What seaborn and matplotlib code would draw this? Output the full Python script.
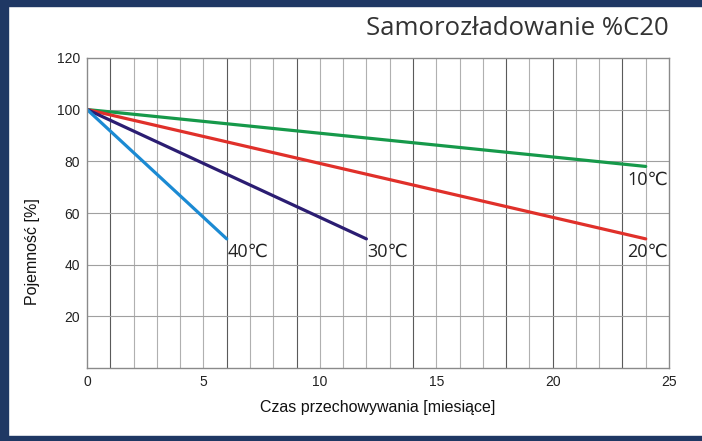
import numpy as np
import pandas as pd
import matplotlib
matplotlib.use("Agg")
import matplotlib.pyplot as plt
import seaborn as sns
from matplotlib.patches import Rectangle

# data
temps = ["10℃", "20℃", "30℃", "40℃"]
months_10 = [0, 24]
cap_10 = [100, 78]
months_20 = [0, 24]
cap_20 = [100, 50]
months_30 = [0, 12]
cap_30 = [100, 50]
months_40 = [0, 6]
cap_40 = [100, 50]
colors = ["#16994a", "#e0302a", "#2b1d72", "#1b8ad3"]
y_ticks = [20, 40, 60, 80, 100, 120]
x_ticks = [0, 5, 10, 15, 20, 25]

df = pd.concat([
    pd.DataFrame({"t": temps[0], "m": months_10, "c": cap_10}),
    pd.DataFrame({"t": temps[1], "m": months_20, "c": cap_20}),
    pd.DataFrame({"t": temps[2], "m": months_30, "c": cap_30}),
    pd.DataFrame({"t": temps[3], "m": months_40, "c": cap_40}),
])

sns.set_style("white")
plt.rcParams["font.family"] = ["Liberation Sans", "DejaVu Sans"]

fig = plt.figure(figsize=(7.02, 4.41), dpi=100)
ax = fig.add_axes([0.124, 0.165, 0.829, 0.704])

# grid: one vertical line per month, horizontal per 20 %
dark = [1, 6, 9, 14, 18, 20, 23]
for m in range(1, 25):
    ax.axvline(m, color="#5a5a5a" if m in dark else "#b0b0b0", lw=0.8, zorder=0)
for v in y_ticks[:-1]:
    ax.axhline(v, color="#a0a0a0", lw=0.8, zorder=0)

sns.lineplot(data=df, x="m", y="c", hue="t", palette=colors, lw=2.3,
             legend=False, ax=ax)

ax.set_xlim(0, 25)
ax.set_ylim(0, 120)
ax.set_xticks(x_ticks)
ax.set_yticks(y_ticks)
ax.tick_params(labelsize=10, colors="#222222", length=0, pad=5)
for s in ax.spines.values():
    s.set_color("#8a8a8a")
    s.set_linewidth(1.0)

ax.set_xlabel("Czas przechowywania [miesiące]", fontsize=11.5, color="#111111", labelpad=8)
ax.set_ylabel("Pojemność [%]", fontsize=11.5, color="#111111")
ax.yaxis.set_label_coords(-0.08, 0.375)

# end labels, the two long lines have theirs tucked under the end
ends = [(months_10[-1], cap_10[-1]), (months_20[-1], cap_20[-1]),
        (months_30[-1], cap_30[-1]), (months_40[-1], cap_40[-1])]
shift = [-0.8, -0.8, 0.05, 0.05]
for lab, (xe, ye), dx in zip(temps, ends, shift):
    ax.text(xe + dx, ye - 1.5, lab, fontsize=13, color="#222222",
            ha="left", va="top", family=["Open Sans", "DejaVu Sans"])

fig.text(0.952, 0.935, "Samorozładowanie %C20", fontsize=18.5, color="#333333",
         ha="right", va="center", family=["Open Sans", "DejaVu Sans"])

# navy frame
navy = "#1f3864"
fig.patches.append(Rectangle((0, 0), 0.012, 1, transform=fig.transFigure, color=navy))
fig.patches.append(Rectangle((0, 0.987), 1, 0.013, transform=fig.transFigure, color=navy))
fig.patches.append(Rectangle((0, 0), 1, 0.011, transform=fig.transFigure, color=navy))

fig.savefig("out.png", dpi=100)
